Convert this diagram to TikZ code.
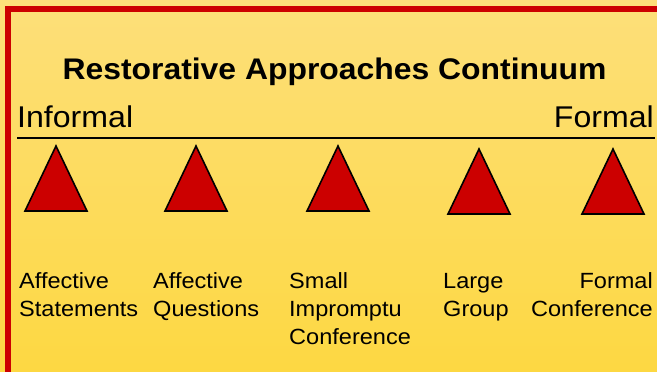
\documentclass[tikz,border=0pt]{standalone}
\usepackage{fontspec}
\setmainfont[FakeStretch=1.07]{Liberation Sans}
\usetikzlibrary{positioning}
\definecolor{paleyellow}{RGB}{253,223,122}
\definecolor{deepyellow}{RGB}{253,216,66}
\definecolor{framered}{RGB}{204,0,0}
\definecolor{markred}{RGB}{204,0,0}
\tikzstyle{heading}=[
  font={\fontsize{29.8}{34}\selectfont\bfseries},
  inner sep=0pt,
  anchor=base,
]
\tikzstyle{endlabel}=[
  font={\fontsize{30}{36}\selectfont},
  inner sep=0pt,
]
% base anchor of a multi-line node sits on its last line
\tikzstyle{approach}=[
  font={\fontsize{22}{28}\selectfont},
  inner sep=0pt,
  align=left,
  anchor=base west,
]
\tikzstyle{marker}=[
  draw=black,
  fill=markred,
  line width=1.6pt,
  line join=miter,
]
\tikzset{
  x=1pt,
  y=-1pt,
}

\begin{document}
\begin{tikzpicture}
      \useasboundingbox (0,0) rectangle (657,372);
      \clip (0,0) rectangle (657,372);
      \shade [top color=paleyellow, bottom color=deepyellow] (0,0) rectangle (657,372);
      \draw [framered, line width=6pt] (8,9) rectangle (700,420);
      \node (title) [heading] at (334.5,79) {Restorative Approaches Continuum};
      \node (informal) [endlabel, anchor=base west] at (17,127) {Informal};
      \node (formal) [endlabel, anchor=base east] at (654,127) {Formal};
      \coordinate (rulestart) at (17,137.5);
      \coordinate (ruleend) at (655,137.5);
      \draw [line width=2pt] (rulestart) -- (ruleend);
      \foreach \name/\x/\y in {t1/56/146, t2/196/146, t3/338/146, t4/479/149, t5/613/149} {
        \coordinate (\name) at (\x,\y);
        \draw [marker] (\name) -- ++(-31,65) -- ++(62,0) -- cycle;
      }
      \node (statements) [approach] at (19,316) {Affective\\Statements};
      \node (questions) [approach] at (153,316) {Affective\\Questions};
      \node (impromptu) [approach] at (289,344) {Small\\Impromptu\\Conference};
      \node (group) [approach] at (443,316) {Large\\Group};
      \node (conference) [approach, align=right, anchor=base east] at (653,316) {Formal\\Conference};
    \end{tikzpicture}
\end{document}
